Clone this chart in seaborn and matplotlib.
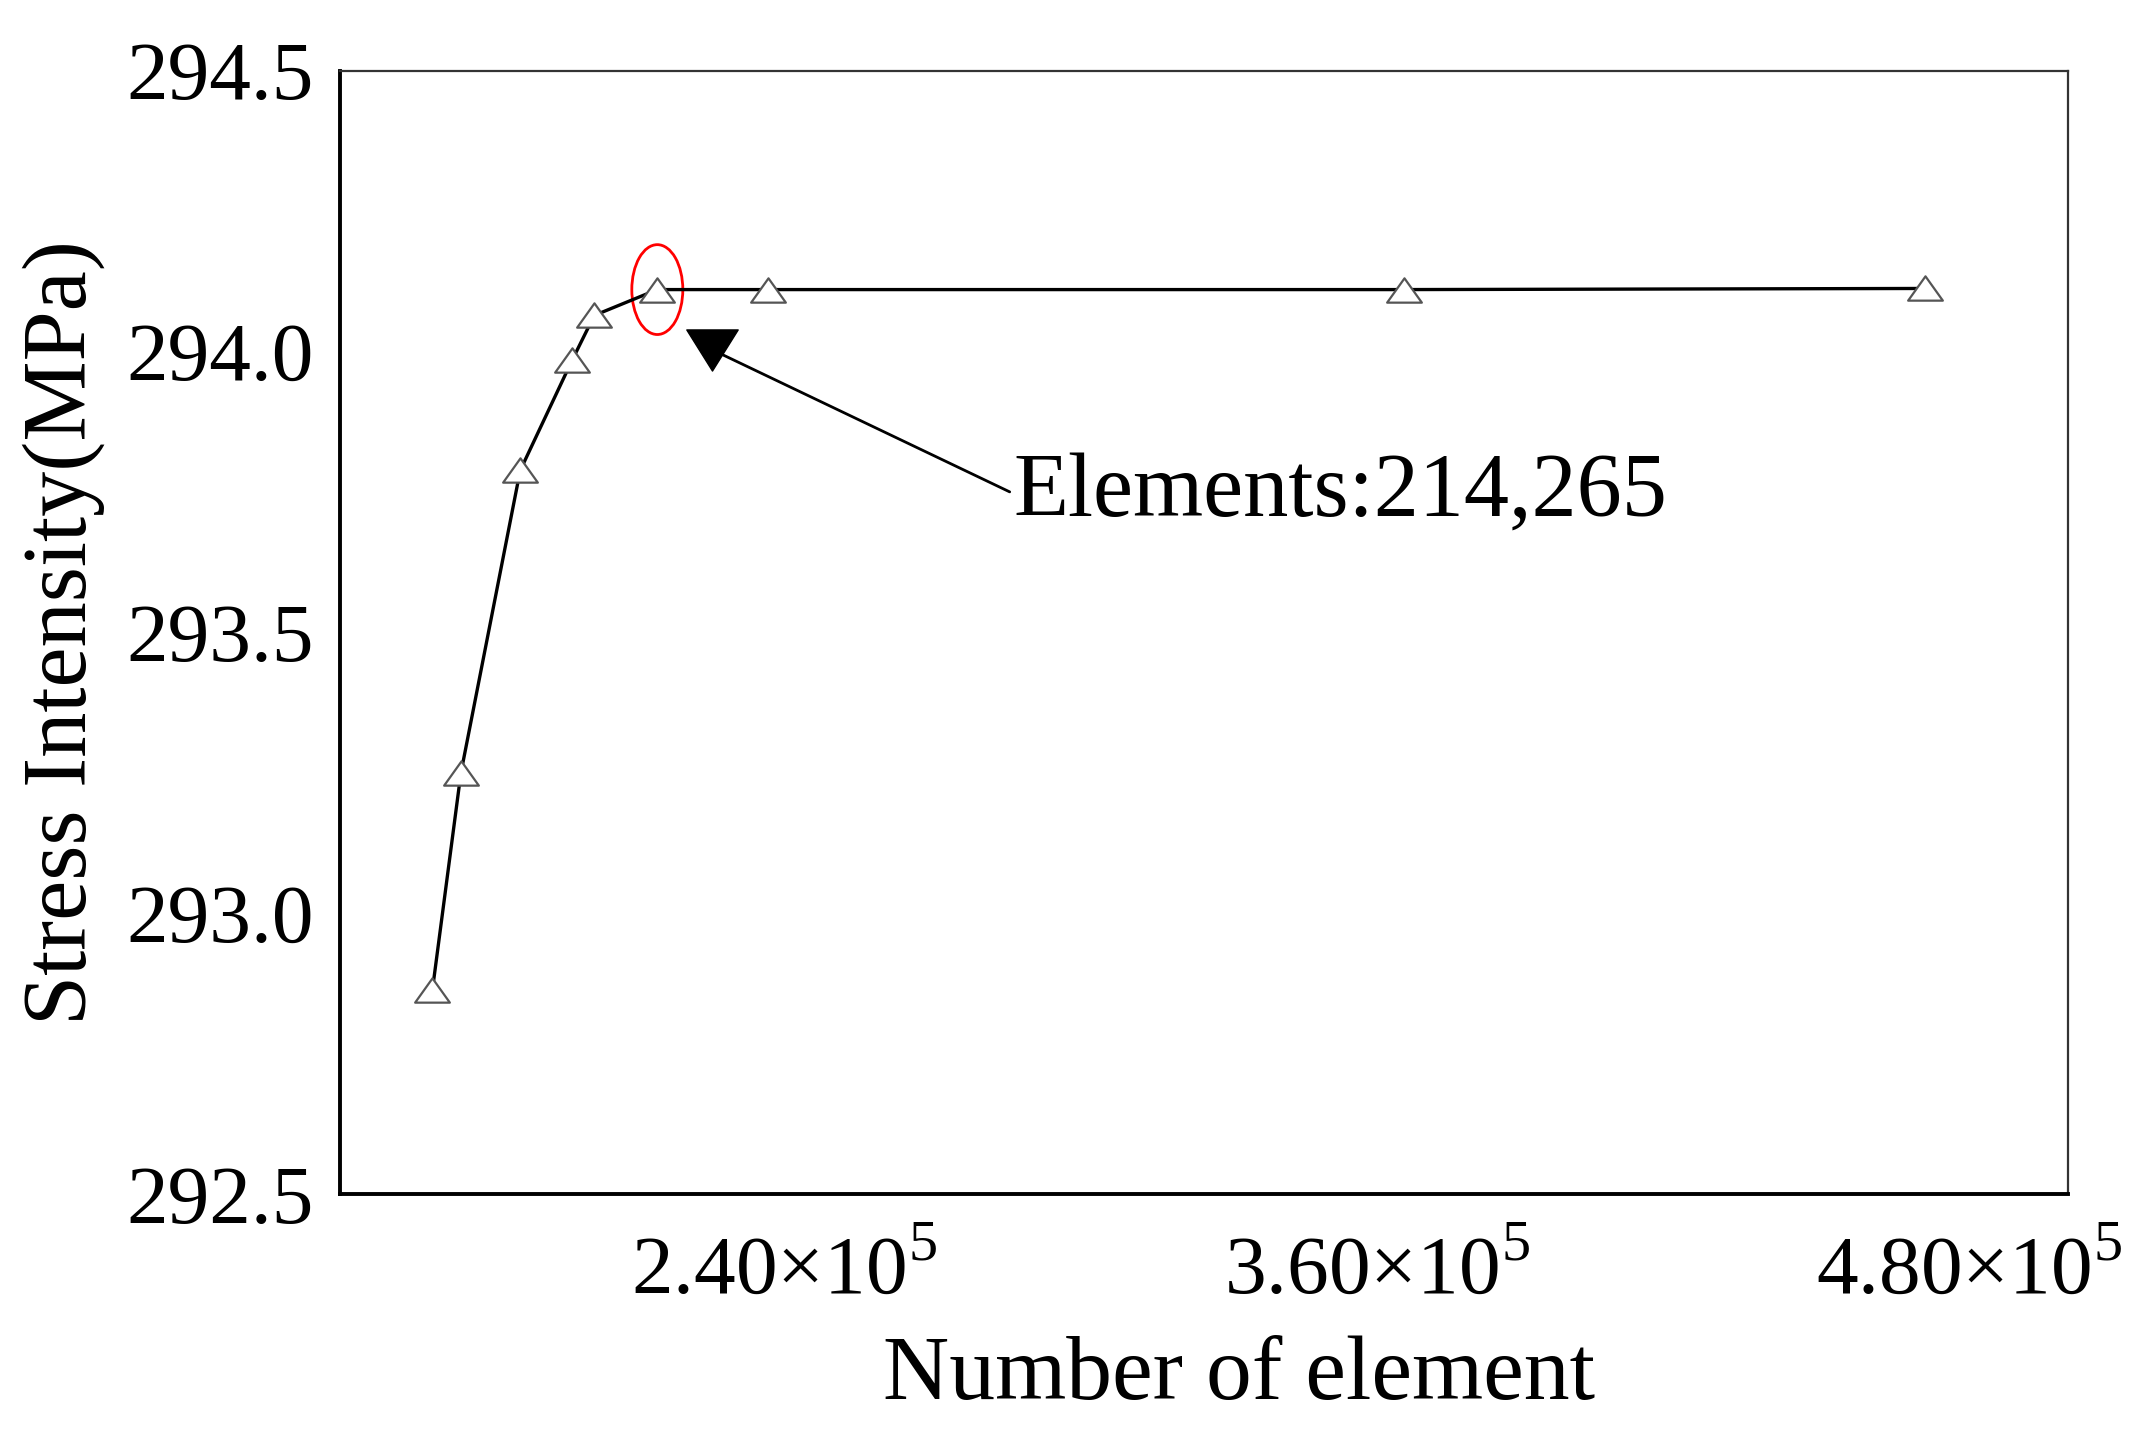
import numpy as np
import pandas as pd
import matplotlib
matplotlib.use('Agg')
import matplotlib.pyplot as plt
from matplotlib.path import Path
from matplotlib.patches import Ellipse
import seaborn as sns

# mesh convergence data
elements = [168700, 174500, 186500, 197000, 201500, 214265, 236700, 365500, 471100]
stress = [292.862, 293.250, 293.788, 293.984, 294.064, 294.110, 294.110, 294.110, 294.112]

x_ticks = [240000, 360000, 480000]
x_tick_labels = ['2.40×10$^{5}$', '3.60×10$^{5}$', '4.80×10$^{5}$']
y_ticks = [292.5, 293.0, 293.5, 294.0, 294.5]
y_tick_labels = ['292.5', '293.0', '293.5', '294.0', '294.5']

note_text = 'Elements:214,265'
note_head = (225350, 294.003)
note_pos = (286300, 293.747)
circle_center = (214265, 294.11)

df = pd.DataFrame({'Elements': elements, 'Stress': stress})

sns.set_theme(style='white')
plt.rcParams['font.family'] = ['Liberation Serif', 'DejaVu Serif']
plt.rcParams['mathtext.fontset'] = 'custom'
plt.rcParams['mathtext.rm'] = 'Liberation Serif'
plt.rcParams['text.color'] = 'black'
plt.rcParams['axes.labelcolor'] = 'black'

fig = plt.figure(figsize=(21.52, 14.4), dpi=100)
ax = fig.add_axes([0.158, 0.171, 0.803, 0.780])

tri_up = Path([(-1, -0.7), (1, -0.7), (0, 0.7), (-1, -0.7)],
              [Path.MOVETO, Path.LINETO, Path.LINETO, Path.CLOSEPOLY])
tri_down = Path([(-1, 0.8), (1, 0.8), (0, -0.8), (-1, 0.8)],
                [Path.MOVETO, Path.LINETO, Path.LINETO, Path.CLOSEPOLY])

sns.lineplot(data=df, x='Elements', y='Stress', ax=ax, color='black', lw=2.4,
             marker=tri_up, markersize=25, markerfacecolor='white',
             markeredgecolor='#555555', markeredgewidth=1.6)

# highlight of the chosen mesh
ax.add_patch(Ellipse(circle_center, width=10330, height=0.16, fill=False,
                     edgecolor='red', lw=2))

# annotation arrow with a filled triangular head
ax.annotate(note_text, xy=note_head, xytext=note_pos, fontsize=65,
            ha='left', va='center', color='black',
            arrowprops=dict(arrowstyle='-', color='black', lw=2,
                            relpos=(0, 0.5), shrinkA=0, shrinkB=0))
ax.plot([note_head[0]], [note_head[1]], marker=tri_down, markersize=37,
        color='black', ls='none')

ax.set_xlim(150000, 500000)
ax.set_ylim(292.5, 294.5)
ax.set_xticks(x_ticks)
ax.set_xticklabels(x_tick_labels)
ax.set_yticks(y_ticks)
ax.set_yticklabels(y_tick_labels)
ax.tick_params(axis='both', length=0, labelsize=60, colors='black')
ax.tick_params(axis='x', pad=30)
ax.tick_params(axis='y', pad=19)

ax.set_xlabel('Number of element', fontsize=66, labelpad=18, x=0.52)
ax.set_ylabel('Stress Intensity(MPa)', fontsize=65, labelpad=15)

for side in ['left', 'bottom']:
    ax.spines[side].set_color('black')
    ax.spines[side].set_linewidth(2.8)
for side in ['top', 'right']:
    ax.spines[side].set_color('#333333')
    ax.spines[side].set_linewidth(1.6)

fig.savefig('out.png', dpi=100, facecolor='white')
